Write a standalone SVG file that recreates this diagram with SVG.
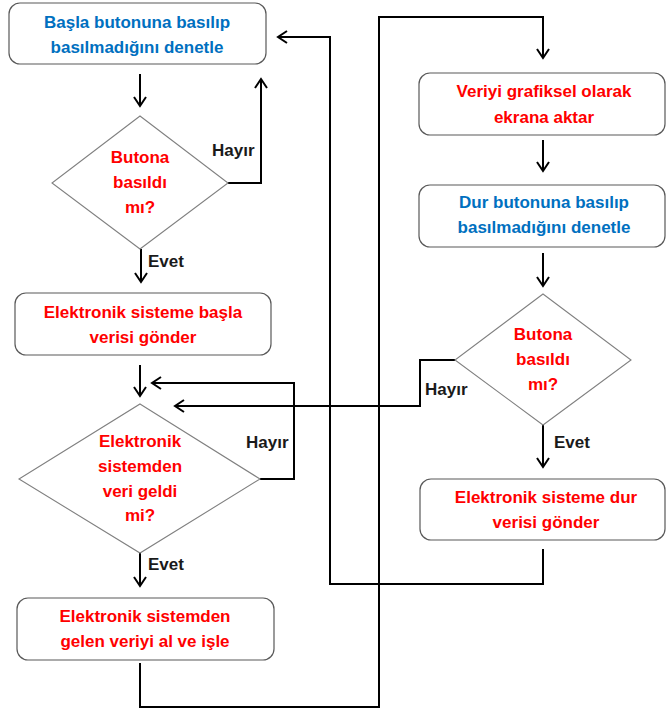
<svg xmlns="http://www.w3.org/2000/svg" width="667" height="713" viewBox="0 0 667 713">
  <style>
    .box { fill: #ffffff; stroke: #595959; stroke-width: 1.2; }
    .dia { fill: #ffffff; stroke: #808080; stroke-width: 1.1; }
    .t { font-family: "Liberation Sans", Arial, sans-serif; font-size: 17px; font-weight: bold; text-anchor: middle; }
    .blue { fill: #0070C0; }
    .red { fill: #FF0000; }
    .lbl { font-family: "Liberation Sans", Arial, sans-serif; font-size: 17px; font-weight: bold; fill: #1a1a1a; }
    .wire { fill: none; stroke: #000000; stroke-width: 2; }
    .arr { marker-end: url(#head); }
  </style>
  <defs>
    <marker id="head" markerUnits="userSpaceOnUse" markerWidth="14" markerHeight="16" viewBox="0 0 14 16" refX="12" refY="8" orient="auto">
      <path d="M3,2 L12,8 L3,14" fill="none" stroke="#000000" stroke-width="2"/>
    </marker>
  </defs>
  <rect width="667" height="713" fill="#ffffff"/>

  <!-- connectors -->
  <g id="connectors">
    <path class="wire arr" d="M140,74 V106"/>
    <path class="wire arr" d="M228,183 H261 V79"/>
    <path class="wire arr" d="M141,249 V282"/>
    <path class="wire arr" d="M140,365 V396"/>
    <path class="wire arr" d="M260,479 H294 V383 H152"/>
    <path class="wire arr" d="M140,552 V586"/>
    <path class="wire arr" d="M140,663 V707 H379 V17 H543 V58"/>
    <path class="wire arr" d="M543,140 V171"/>
    <path class="wire arr" d="M543,253 V286"/>
    <path class="wire arr" d="M455,360 H420 V406 H175"/>
    <path class="wire arr" d="M543,425 V467"/>
    <path class="wire arr" d="M543,549 V584 H330 V37 H278"/>
  </g>

  <!-- labels on branches -->
  <g id="branch-labels">
    <text class="lbl" x="212" y="156">Hayır</text>
    <text class="lbl" x="148" y="267">Evet</text>
    <text class="lbl" x="246" y="448">Hayır</text>
    <text class="lbl" x="148" y="570">Evet</text>
    <text class="lbl" x="425" y="395">Hayır</text>
    <text class="lbl" x="554" y="448">Evet</text>
  </g>

  <g id="check-start">
    <rect class="box" x="9" y="3" width="257" height="61" rx="11"/>
    <text class="t blue" x="137" y="28">Başla butonuna basılıp</text>
    <text class="t blue" x="137" y="53">basılmadığını denetle</text>
  </g>

  <g id="start-pressed">
    <polygon class="dia" points="140,116 228,183 140,249 52,183"/>
    <text class="t red" x="140" y="163">Butona</text>
    <text class="t red" x="140" y="188">basıldı</text>
    <text class="t red" x="140" y="213">mı?</text>
  </g>

  <g id="send-start">
    <rect class="box" x="15" y="293" width="256" height="62" rx="11"/>
    <text class="t red" x="143" y="318">Elektronik sisteme başla</text>
    <text class="t red" x="143" y="343">verisi gönder</text>
  </g>

  <g id="data-arrived">
    <polygon class="dia" points="140,404 260,479 140,553 19,479"/>
    <text class="t red" x="140" y="447">Elektronik</text>
    <text class="t red" x="140" y="472">sistemden</text>
    <text class="t red" x="140" y="497">veri geldi</text>
    <text class="t red" x="140" y="521">mi?</text>
  </g>

  <g id="process-data">
    <rect class="box" x="17" y="598" width="257" height="62" rx="11"/>
    <text class="t red" x="145" y="622">Elektronik sistemden</text>
    <text class="t red" x="145" y="647">gelen veriyi al ve işle</text>
  </g>

  <g id="plot-data">
    <rect class="box" x="419" y="73" width="246" height="62" rx="11"/>
    <text class="t red" x="544" y="97">Veriyi grafiksel olarak</text>
    <text class="t red" x="544" y="123">ekrana aktar</text>
  </g>

  <g id="check-stop">
    <rect class="box" x="419" y="185" width="246" height="62" rx="11"/>
    <text class="t blue" x="544" y="208">Dur butonuna basılıp</text>
    <text class="t blue" x="544" y="233">basılmadığını denetle</text>
  </g>

  <g id="stop-pressed">
    <polygon class="dia" points="543,294 631,360 543,425 455,360"/>
    <text class="t red" x="543" y="340">Butona</text>
    <text class="t red" x="543" y="365">basıldı</text>
    <text class="t red" x="543" y="390">mı?</text>
  </g>

  <g id="send-stop">
    <rect class="box" x="420" y="479" width="245" height="61" rx="11"/>
    <text class="t red" x="546" y="503">Elektronik sisteme dur</text>
    <text class="t red" x="546" y="528">verisi gönder</text>
  </g>
</svg>
